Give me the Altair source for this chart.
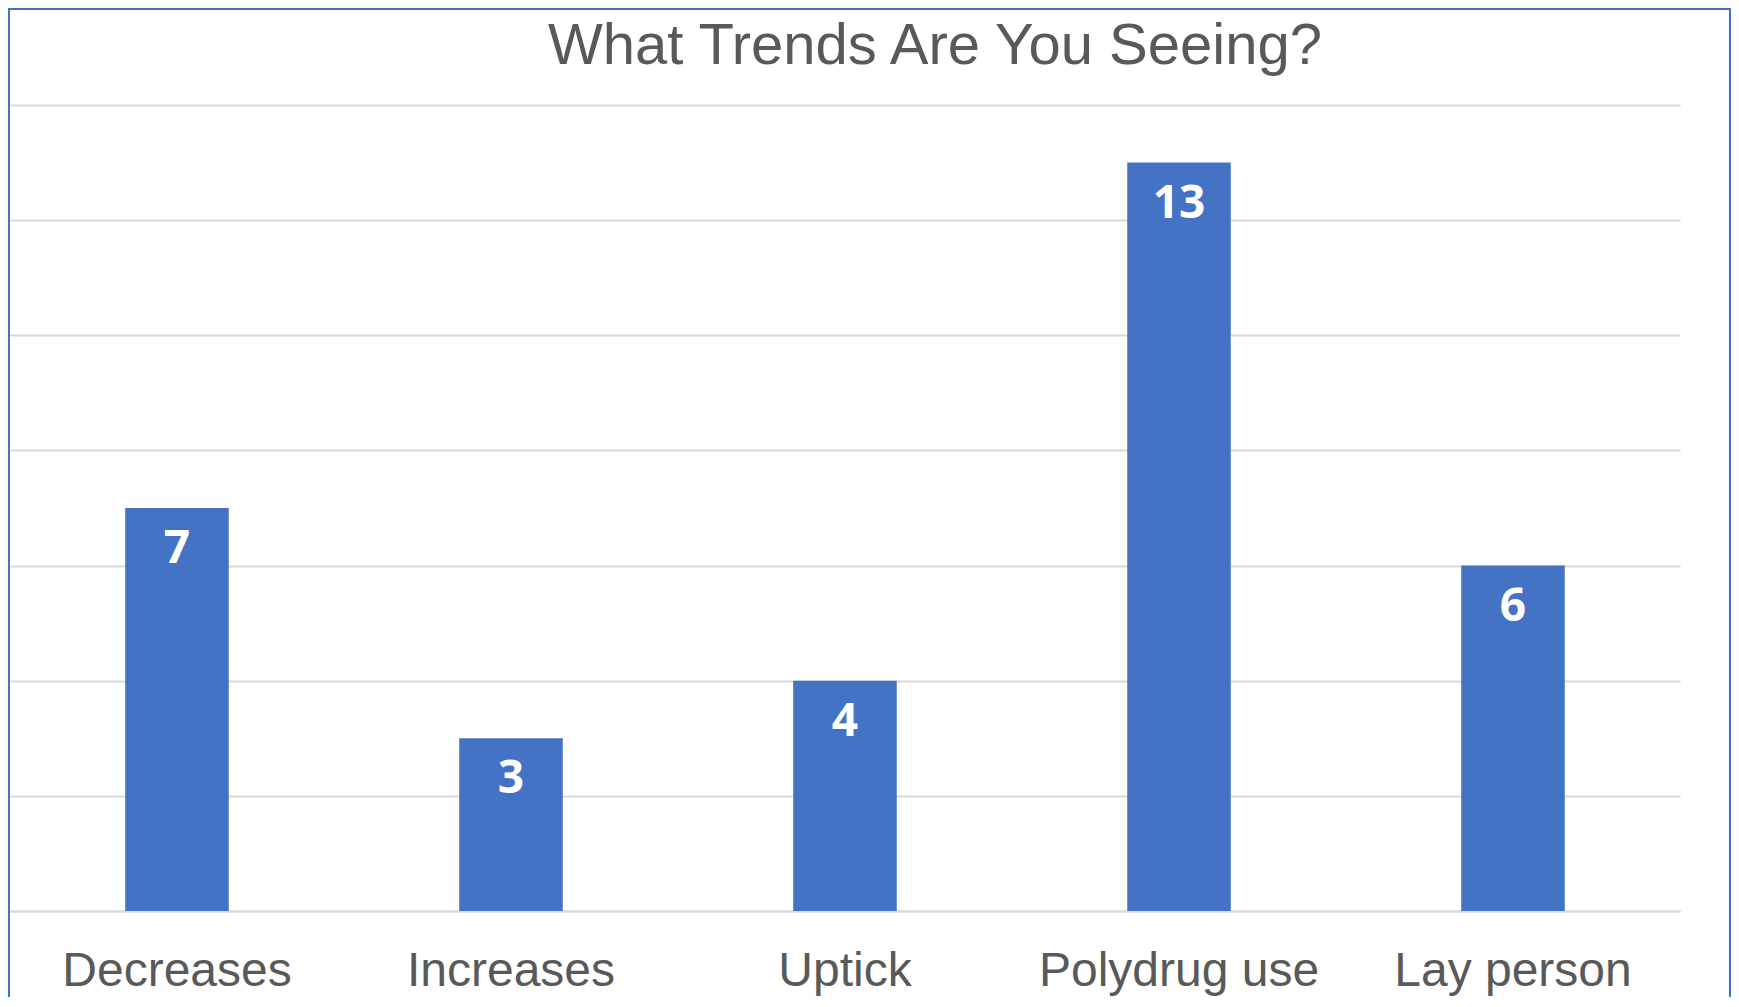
import altair as alt
import pandas as pd

categories = ["Decreases", "Increases", "Uptick", "Polydrug use", "Lay person"]
counts = [7, 3, 4, 13, 6]
y_ticks = [0, 2, 4, 6, 8, 10, 12, 14]

df = pd.DataFrame({"category": categories, "count": counts})

x_enc = alt.X(
    "category:N",
    sort=categories,
    scale=alt.Scale(paddingInner=0.69, paddingOuter=0.345),
    axis=alt.Axis(
        title=None,
        labelAngle=0,
        labelFont="Liberation Sans",
        labelFontSize=48,
        labelColor="#595959",
        labelLimit=0,
        ticks=False,
        domainColor="#D9D9D9",
        domainWidth=2,
        labelPadding=74,
        labelBaseline="alphabetic",
    ),
)
y_enc = alt.Y(
    "count:Q",
    scale=alt.Scale(domain=[0, 14], nice=False),
    axis=alt.Axis(
        title=None,
        values=y_ticks,
        labels=False,
        ticks=False,
        domain=False,
        grid=True,
        gridColor="#D9D9D9",
        gridWidth=2,
    ),
)

base = alt.Chart(df)

bars = base.mark_bar(color="#4472C4").encode(x=x_enc, y=y_enc)

labels = base.mark_text(
    baseline="alphabetic",
    dy=55,
    font="Open Sans",
    fontWeight="bold",
    fontSize=46,
    color="white",
).encode(x=x_enc, y=y_enc, text="count:Q")

border = alt.Chart(alt.Data(values=[{}])).mark_rect(
    fill=None, fillOpacity=0, stroke="#4472C4", strokeWidth=2
).encode(
    x=alt.value(-1),
    x2=alt.value(1720),
    y=alt.value(-96),
    y2=alt.value(910),
)

chart = alt.layer(bars, labels, border).properties(
    width=1670,
    height=806,
    autosize=alt.AutoSizeParams(type="none"),
    padding={"left": 2, "top": 97, "right": 51, "bottom": 86},
    title=alt.TitleParams(
        text="What Trends Are You Seeing?",
        font="Liberation Sans",
        fontSize=58,
        fontWeight="normal",
        color="#595959",
        anchor="middle",
        frame="group",
        dx=90,
        baseline="alphabetic",
        offset=-114,
    ),
).configure_view(stroke=None)

chart.save("out.html", embed_options={"renderer": "svg", "actions": False})
